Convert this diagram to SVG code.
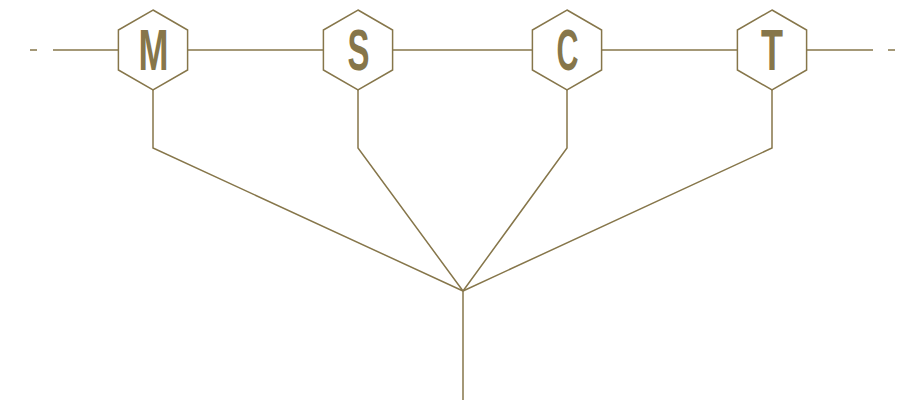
<svg xmlns="http://www.w3.org/2000/svg" width="923" height="402" viewBox="0 0 923 402">
<style>
.ln{fill:none;stroke:#86764a;stroke-width:1.5}
.hx{fill:#fff;stroke:#86764a;stroke-width:1.5}
.lb{font-family:"Liberation Sans",Arial,sans-serif;font-size:57px;font-weight:bold;fill:#86764a;text-anchor:middle}
</style>
<defs>
<polygon id="hex" points="0,-40 34.6,-20 34.6,20 0,40 -34.6,20 -34.6,-20"/>
</defs>
<rect width="923" height="402" fill="#fff"/>
<g id="connectors" class="ln">
<line x1="30" y1="50" x2="37" y2="50"/>
<line x1="53" y1="50" x2="873" y2="50"/>
<line x1="888" y1="50" x2="895" y2="50"/>
<polyline points="153,90 153,148 463,291"/>
<polyline points="358,90 358,148 463,291"/>
<polyline points="567,90 567,148 463,291"/>
<polyline points="772,90 772,148 463,291"/>
<line x1="463" y1="291" x2="463" y2="400"/>
</g>
<g id="node-M"><use href="#hex" class="hx" x="153" y="50"/><text class="lb" x="153.5" y="70" textLength="30" lengthAdjust="spacingAndGlyphs">M</text></g>
<g id="node-S"><use href="#hex" class="hx" x="358" y="50"/><text class="lb" x="358.5" y="70" textLength="22" lengthAdjust="spacingAndGlyphs">S</text></g>
<g id="node-C"><use href="#hex" class="hx" x="567" y="50"/><text class="lb" x="567.5" y="70" textLength="22" lengthAdjust="spacingAndGlyphs">C</text></g>
<g id="node-T"><use href="#hex" class="hx" x="772" y="50"/><text class="lb" x="772" y="70" textLength="22" lengthAdjust="spacingAndGlyphs">T</text></g>
</svg>
